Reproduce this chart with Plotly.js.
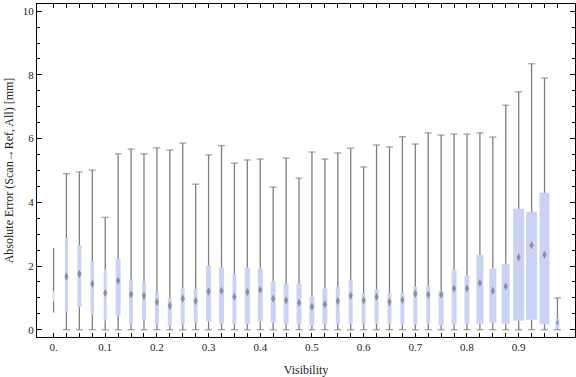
<!DOCTYPE html>
<html><head><meta charset="utf-8">
<script src="https://cdn.plot.ly/plotly-3.0.1.min.js"></script>
<style>html,body{margin:0;padding:0;background:#fff}</style>
</head><body>
<div id="chart" style="width:576px;height:377px"></div>
<script>
// ---- data ----
const visibility = [0,0.025,0.05,0.075,0.1,0.125,0.15,0.175,0.2,0.225,
  0.25,0.275,0.3,0.325,0.35,0.375,0.4,0.425,0.45,0.475,
  0.5,0.525,0.55,0.575,0.6,0.625,0.65,0.675,0.7,0.725,
  0.75,0.775,0.8,0.825,0.85,0.875,0.9,0.925,0.95,0.975];
const maxErr = [2.57,4.90,4.95,5.01,3.53,5.52,5.67,5.52,5.71,5.64,
  5.86,4.57,5.49,5.78,5.23,5.33,5.36,4.48,5.39,4.76,
  5.58,5.36,5.55,5.70,5.11,5.80,5.74,6.06,5.83,6.18,
  6.11,6.14,6.14,6.18,6.05,7.05,7.47,8.35,7.90,1.00];
const q3Err = [1.20,2.88,2.66,2.16,1.88,2.23,1.58,1.51,1.16,0.98,
  1.32,1.26,2.01,1.95,1.73,1.95,1.92,1.51,1.44,1.44,
  1.04,1.29,1.35,1.57,1.13,1.26,1.13,1.16,1.35,1.38,
  1.22,1.88,1.70,2.35,1.92,2.07,3.80,3.70,4.30,0.34];
const medianErr = [1.05,1.67,1.75,1.44,1.15,1.54,1.11,1.07,0.87,0.75,
  0.98,0.90,1.20,1.22,1.03,1.18,1.25,0.97,0.92,0.85,
  0.72,0.80,0.90,1.07,0.92,1.03,0.87,0.93,1.13,1.10,
  1.10,1.29,1.29,1.47,1.22,1.36,2.27,2.65,2.35,0.22];
const q1Err = [0.89,0.57,0.71,0.48,0.29,0.45,0.17,0.28,0.16,0.13,
  0.16,0.25,0.26,0.20,0.17,0.17,0.26,0.23,0.17,0.18,
  0.14,0.17,0.18,0.18,0.19,0.19,0.19,0.16,0.16,0.19,
  0.14,0.16,0.19,0.19,0.22,0.19,0.28,0.31,0.17,0.04];
const minErr = [0.54,0,0,0,0,0,0,0,0,0,
  0,0,0,0,0,0,0,0,0,0,
  0,0,0,0,0,0,0,0,0,0,
  0,0,0,0,0,0,0,0,0,0];
const xLabelVals = [0,0.1,0.2,0.3,0.4,0.5,0.6,0.7,0.8,0.9];
const xLabelText = ["0.","0.1","0.2","0.3","0.4","0.5","0.6","0.7","0.8","0.9"];
const yTickVals = [0,2,4,6,8,10];
const yTickText = ["0","2","4","6","8","10"];

// ---- styles ----
const boxWidthPx = [1.5,3,4,3.3,3,5,4,4,4,4,
  4,4,5,5,4,5,5,5,5,5,
  5,5,4,4,4,4,4,4,4,4,
  5,5,5,7,7,8,11,11,10,4];
const PX_PER_X = 516.8, PX_PER_Y = 31.85;
const boxFill = '#cbd3f5', whiskerCol = '#7f7f7f';
const serif = '"Liberation Serif","Times New Roman",serif';

const barW = boxWidthPx.map(w => w / PX_PER_X);

const wx = [], wy = [];
visibility.forEach((x, i) => {
  wx.push(x, x, null, x, x, null);
  wy.push(q3Err[i], maxErr[i], null, minErr[i], q1Err[i], null);
});
const capX = [], capY = [], capS = [];
visibility.forEach((x, i) => {
  const s = boxWidthPx[i] < 2 ? 0 : 5;
  capX.push(x, x); capY.push(maxErr[i], minErr[i]); capS.push(s, s);
});
const medSize = visibility.map((x, i) => boxWidthPx[i] < 2 ? 0 :
  Math.min(6, (q3Err[i] - q1Err[i]) * PX_PER_Y / 2.5));

const ticktext = visibility.map(v => {
  const k = xLabelVals.findIndex(t => Math.abs(t - v) < 1e-9);
  return k >= 0 ? xLabelText[k] : '';
});

const data = [
  {type:'bar', x: visibility, y: q3Err.map((v,i)=>v-q1Err[i]), base: q1Err,
   width: barW, marker:{color: boxFill, line:{width:0}}, hoverinfo:'skip'},
  {type:'scatter', mode:'lines', x: wx, y: wy, line:{color: whiskerCol, width:1.3},
   connectgaps:false, hoverinfo:'skip'},
  {type:'scatter', mode:'markers', x: capX, y: capY,
   marker:{symbol:'line-ew', size: capS, line:{color: whiskerCol, width:1.3}}, hoverinfo:'skip'},
  {type:'scatter', mode:'markers', x: visibility, y: medianErr,
   marker:{symbol:'diamond-tall', size: medSize, color:'rgba(105,105,105,0.9)', line:{width:0}}, hoverinfo:'skip'}
];

const layout = {
  width:576, height:377,
  margin:{l:37, r:1, t:4, b:40},
  paper_bgcolor:'#fff', plot_bgcolor:'#fff',
  showlegend:false, barmode:'overlay',
  font:{family: serif, color:'#222'},
  xaxis:{
    range:[-0.032, 1.009], tickmode:'array', tickvals: visibility, ticktext: ticktext,
    ticks:'inside', ticklen:4, tickwidth:1, tickcolor:'#000',
    showline:true, linecolor:'#000', linewidth:1, mirror:'allticks',
    showgrid:false, zeroline:false,
    tickfont:{family: serif, size:11, color:'#222'},
    title:{text:'Visibility', font:{family: serif, size:12, color:'#222'}, standoff:13}
  },
  yaxis:{
    range:[-0.229, 10.226], tickmode:'array', tickvals: yTickVals, ticktext: yTickText,
    ticks:'inside', ticklen:5, tickwidth:1, tickcolor:'#000',
    minor:{dtick:0.5, ticks:'inside', ticklen:3, tickcolor:'#000', showgrid:false},
    showline:true, linecolor:'#000', linewidth:1, mirror:'allticks',
    showgrid:false, zeroline:false,
    tickfont:{family: serif, size:11, color:'#222'},
    title:{text:'Absolute Error (Scan\u2192Ref, All) [mm]', font:{family: serif, size:12, color:'#222'}, standoff:6}
  }
};

Plotly.newPlot('chart', data, layout, {displayModeBar:false, staticPlot:true});
</script>
</body></html>
